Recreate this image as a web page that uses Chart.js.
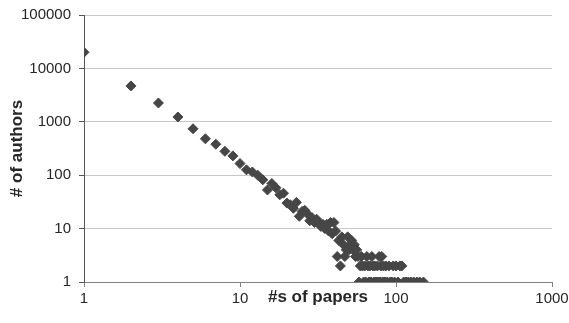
<!DOCTYPE html>
<html lang="en">
<head>
  <meta charset="UTF-8">
  <title># of authors vs #s of papers</title>
  <script src="https://cdn.jsdelivr.net/npm/chart.js"></script>
  <style>
    html,body{margin:0;padding:0;background:#fff}
    #wrap{position:relative;width:569px;height:323px}
  </style>
</head>
<body>
  <div id="wrap"><canvas id="chart"></canvas></div>
<script>
/* ===== data ===== */
const papers = [
  1,2,3,4,5,6,7,8,9,10,11,12,13,14,15,16,17,18,19,20,
  21,22,23,24,25,26,27,28,29,30,31,32,33,34,35,36,37,38,39,40,
  41,42,43,44,45,46,47,48,49,50,51,52,53,54,55,56,57,58,59,60,
  61,62,63,64,65,66,67,68,69,70,71,72,73,74,75,76,77,78,79,80,
  81,82,83,84,85,86,88,90,92,94,96,98,100,103,106,109,112,116,120,125,
  130,136,142,150
];
const authors = [
  20000,4700,2250,1230,740,480,380,280,230,165,126,115,100,82,53,70,58,43,46,30,
  28,24,31,17,21,22,19,14,16,13,15,13,11,12,10,12,9,13,8,13,
  9,3,6,2,7,5,3,4,7,4,5,6,4,5,3,4,3,1,2,3,
  2,1,2,1,3,2,1,2,1,3,2,1,2,1,1,2,1,3,1,2,
  3,1,2,1,1,2,1,2,1,1,2,1,2,1,2,2,1,1,1,1,
  1,1,1,1
];
const xTicks = [1, 10, 100, 1000];
const yTicks = [1, 10, 100, 1000, 10000, 100000];

const points = papers.map((p, i) => ({x: p, y: authors[i]}));

const FONT = "'Liberation Sans', Arial, sans-serif";
const INK = '#262626';

new Chart(document.getElementById('chart'), {
  type: 'scatter',
  data: {
    datasets: [{
      label: 'authors',
      data: points,
      pointStyle: 'rectRot',
      pointRadius: 5,
      pointHoverRadius: 5,
      backgroundColor: '#464646',
      borderColor: '#464646',
      borderWidth: 1
    }]
  },
  options: {
    responsive: true,
    maintainAspectRatio: false,
    animation: false,
    layout: {padding: {top: 15, right: 17, left: 0, bottom: 0}},
    plugins: {legend: {display: false}, tooltip: {enabled: false}},
    scales: {
      x: {
        type: 'logarithmic',
        min: 1, max: 1000,
        afterBuildTicks: s => { s.ticks = xTicks.map(v => ({value: v})); },
        afterFit: s => { s.height = 41; s.paddingLeft = 0; s.paddingRight = 0; },
        border: {display: true, color: '#808080', width: 1},
        grid: {drawOnChartArea: false, drawTicks: true, tickLength: 5, tickColor: '#808080'},
        ticks: {
          color: INK, font: {family: FONT, size: 15}, padding: 3,
          maxRotation: 0, autoSkip: false,
          callback: v => String(v)
        },
        title: {
          display: true, text: '#s of papers', color: INK,
          font: {family: FONT, size: 17, weight: 'bold'},
          padding: {top: 0, bottom: 15}
        }
      },
      y: {
        type: 'logarithmic',
        min: 1, max: 100000,
        afterBuildTicks: s => { s.ticks = yTicks.map(v => ({value: v})); },
        afterFit: s => { s.width = 84; s.paddingTop = 0; s.paddingBottom = 0; },
        border: {display: true, color: '#555555', width: 1},
        grid: {color: '#c8c8c8', drawTicks: true, tickLength: 5, tickColor: '#555555'},
        ticks: {
          color: INK, font: {family: FONT, size: 15}, padding: 8,
          autoSkip: false,
          callback: v => String(v)
        },
        title: {
          display: true, text: '# of authors', color: INK,
          font: {family: FONT, size: 17, weight: 'bold'},
          padding: {top: 7, bottom: 0}
        }
      }
    }
  }
});
</script>
</body>
</html>
